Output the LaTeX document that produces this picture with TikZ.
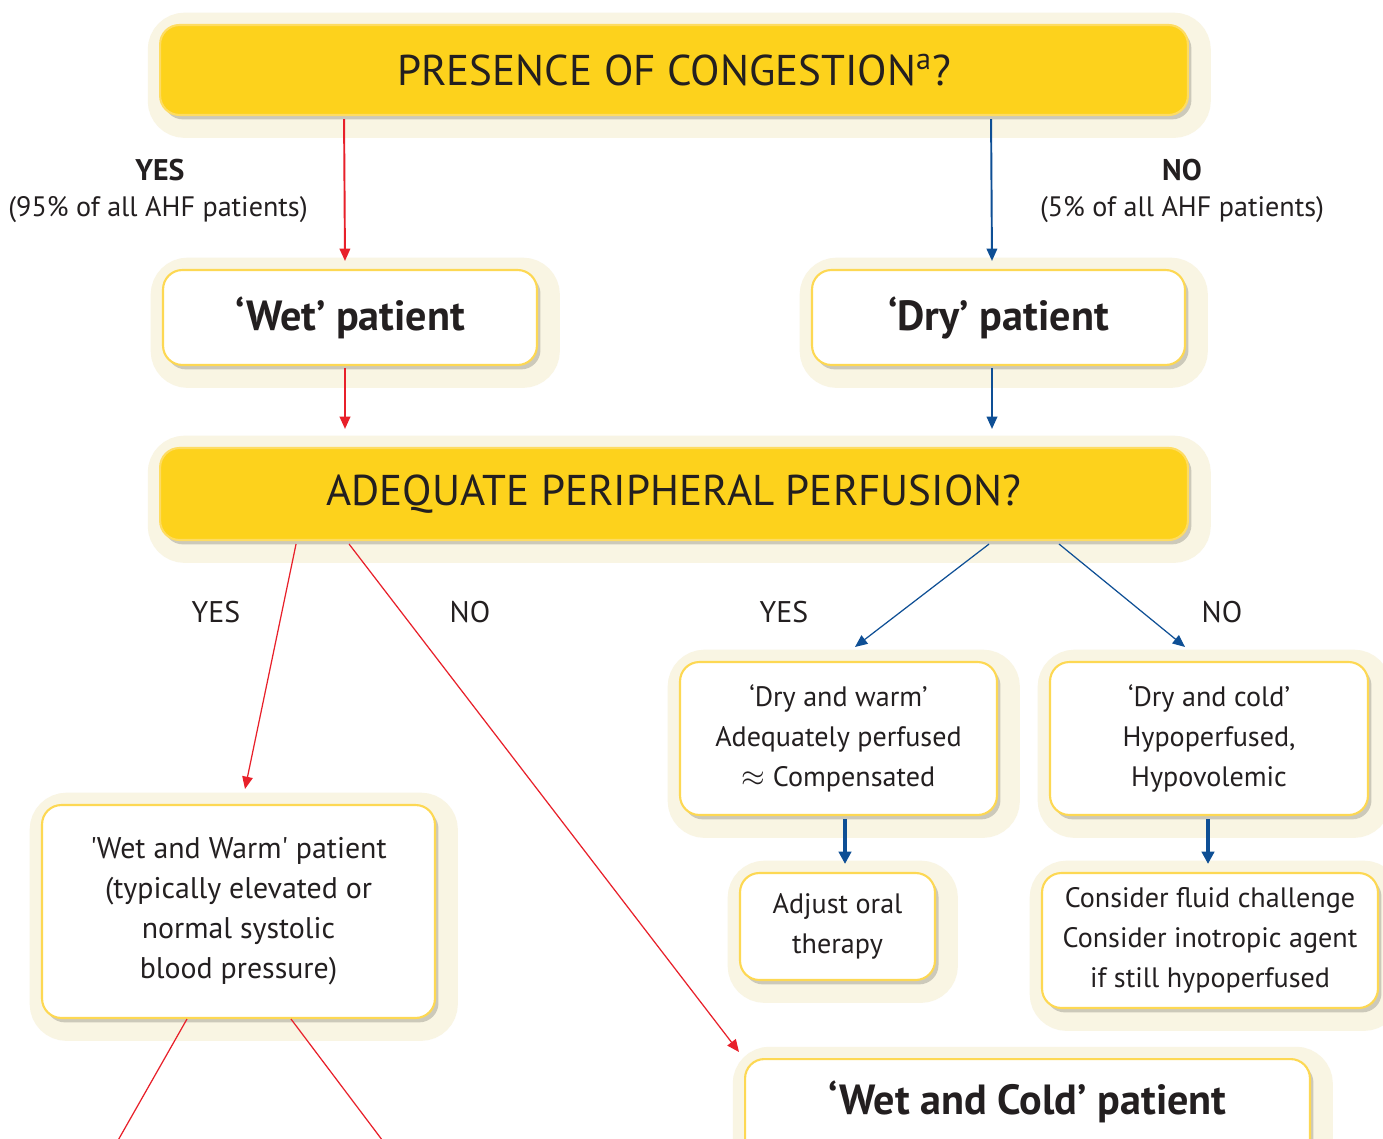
\documentclass[tikz,border=0pt]{standalone}
\usepackage{fontspec}
\setmainfont{PT Sans}
\usetikzlibrary{arrows.meta,calc,shadows}
\definecolor{ybox}{HTML}{FDD21C}
\definecolor{yedge}{HTML}{FEDC62}
\definecolor{wedge}{HTML}{FDD853}
\definecolor{halo}{HTML}{F9F5E3}
\definecolor{arrred}{HTML}{E8202A}
\definecolor{arrblue}{HTML}{0E4F95}
\definecolor{txt}{HTML}{231F20}
\tikzset{
  haloed/.style={
    general shadow={fill=halo, draw=halo, line width=20pt, shadow xshift=3pt, shadow yshift=-3pt},
    drop shadow={fill=black!45!halo, opacity=0.4, shadow xshift=2pt, shadow yshift=-2.5pt}
  },
  qbox/.style={haloed, rectangle, rounded corners=11pt, fill=ybox, draw=yedge, line width=1.2pt,
    minimum width=20.56cm, text=txt, font=\fontsize{24.5}{28}\selectfont},
  pbox/.style={haloed, rectangle, rounded corners=11pt, fill=white, draw=wedge, line width=1.2pt,
    text=txt, align=center, font=\fontsize{16}{22.7}\selectfont},
  bbox/.style={pbox, font=\bfseries\fontsize{24}{28}\selectfont},
  tipA/.style={-{Triangle[length=7pt,width=6pt]}},
  redarr/.style={draw=arrred, line width=1.1pt, tipA},
  redthin/.style={draw=arrred, line width=0.7pt, tipA},
  bluearr/.style={draw=arrblue, line width=1.1pt, tipA},
  bluethin/.style={draw=arrblue, line width=0.7pt, tipA},
  bluethick/.style={draw=arrblue, line width=2pt, -{Triangle[length=7pt,width=7pt]}},
  lbl/.style={text=txt, font=\fontsize{16}{20}\selectfont},
  blbl/.style={text=txt, font=\bfseries\fontsize{17}{20}\selectfont},
}
\begin{document}
\begin{tikzpicture}[x=0.02cm,y=-0.02cm]
\fill[white] (0,0) rectangle (1383,1139);
\useasboundingbox (0,0) rectangle (1383,1139);

% question boxes
\node[qbox, minimum height=1.8cm] (cong) at (674,70) {PRESENCE OF CONGESTION\textsuperscript{a}?};
\node[qbox, minimum height=1.84cm] (perf) at (674,494) {ADEQUATE PERIPHERAL PERFUSION?};

% patient boxes
\node[bbox, minimum width=7.48cm, minimum height=1.9cm] (wet) at (350,317.5) {‘Wet’ patient};
\node[bbox, minimum width=7.46cm, minimum height=1.9cm] (dry) at (998.5,317.5) {‘Dry’ patient};

\node[pbox, minimum width=6.34cm, minimum height=3.06cm] (dw) at (838.5,738.5)
  {‘Dry and warm’\\Adequately perfused\\$\approx$ Compensated};
\node[pbox, minimum width=6.36cm, minimum height=3.06cm] (dc) at (1209,738.5)
  {‘Dry and cold’\\Hypoperfused,\\Hypovolemic};
\node[pbox, minimum width=3.9cm, minimum height=2.14cm] (adj) at (837.5,926.5)
  {Adjust oral\\therapy};
\node[pbox, minimum width=6.72cm, minimum height=2.7cm] (fluid) at (1210,940.5)
  {Consider fluid challenge\\Consider inotropic agent\\if still hypoperfused};
\node[pbox, minimum width=7.86cm, minimum height=4.26cm, font=\fontsize{17}{22.7}\selectfont] (ww) at (238.5,911.5)
  {\textquotesingle Wet and Warm\textquotesingle{} patient\\(typically elevated or\\normal systolic\\blood pressure)};
\node[bbox, anchor=north, minimum width=11.3cm, minimum height=2.4cm, text height=0.5cm, text depth=0.7cm] (wc) at (1027.5,1058)
  {‘Wet and Cold’ patient};

% labels
\node[blbl] (yes1) at (160,170) {YES};
\node[lbl] (yes1b) at (158,210) {(95\% of all AHF patients)};
\node[blbl] (no1) at (1182,170) {NO};
\node[lbl] (no1b) at (1182,210) {(5\% of all AHF patients)};
\node[lbl, font=\fontsize{17}{20}\selectfont] (yes2) at (216,612) {YES};
\node[lbl, font=\fontsize{17}{20}\selectfont] (no2) at (470,612) {NO};
\node[lbl, font=\fontsize{17}{20}\selectfont] (yes3) at (784,612) {YES};
\node[lbl, font=\fontsize{17}{20}\selectfont] (no3) at (1222,612) {NO};

% connectors
\draw[redarr] ($(cong.south west)+(185,3)$) -- ($(wet.north)+(-5,-8)$);
\draw[bluearr] ($(cong.south west)+(832,3)$) -- ($(dry.north)+(-6.5,-8)$);
\draw[redarr] ($(wet.south)+(-5,2)$) -- ($(perf.north)+(-329,-18)$);
\draw[bluearr] ($(dry.south)+(-6.5,2)$) -- ($(perf.north)+(318,-18)$);
\draw[redthin] ($(perf.south west)+(137,3)$) -- ($(ww.north)+(6.5,-15)$);
\draw[redthin] ($(perf.south west)+(190,3)$) -- ($(wc.north west)+(-5,-6)$);
\draw[bluethin] ($(perf.south west)+(830,3)$) -- ($(dw.north)+(16.5,-14)$);
\draw[bluethin] ($(perf.south west)+(900,3)$) -- ($(dc.north)+(-24,-14)$);
\draw[bluethick] ($(dw.south)+(6.5,3)$) -- ($(adj.north)+(7.5,-8)$);
\draw[bluethick] ($(dc.south)+(-1,3)$) -- ($(fluid.north)+(-2,-8)$);
\coordinate (offA) at (104,1165);
\coordinate (offB) at (401,1165);
\draw[draw=arrred, line width=0.7pt] ($(ww.south west)+(146,0)$) -- (offA);
\draw[draw=arrred, line width=0.7pt] ($(ww.south west)+(250,0)$) -- (offB);
\end{tikzpicture}
\end{document}
